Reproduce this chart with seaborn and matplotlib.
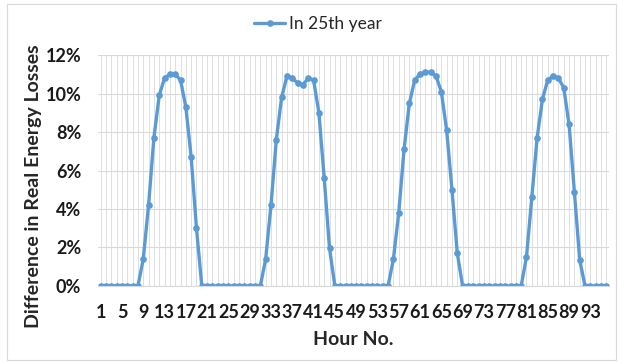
import numpy as np
import pandas as pd
import matplotlib
matplotlib.use('Agg')
import matplotlib.pyplot as plt
import seaborn as sns
from matplotlib.ticker import MultipleLocator, FixedLocator, PercentFormatter
from matplotlib.patches import Rectangle

# hourly difference in real energy losses (%), hours 1..96
hours = list(range(1, 97))
diff_pct = ([0] * 8
            + [1.4, 4.2, 7.7, 9.9, 10.8, 11.0, 11.0, 10.7, 9.3, 6.7, 3.0]
            + [0] * 12
            + [1.4, 4.2, 7.6, 9.8, 10.9, 10.8, 10.55, 10.45, 10.8, 10.7, 9.0, 5.6, 1.95]
            + [0] * 11
            + [1.4, 3.8, 7.1, 9.5, 10.7, 11.0, 11.1, 11.1, 10.9, 10.1, 8.1, 5.0, 1.7]
            + [0] * 12
            + [1.5, 4.6, 7.7, 9.7, 10.7, 10.9, 10.8, 10.3, 8.4, 4.9, 1.35]
            + [0] * 5)
x_ticks = list(range(1, 97, 4))
series_name = 'In 25th year'

df = pd.DataFrame({'Hour': hours, 'Diff': diff_pct, 'Series': series_name})

sns.set_style('white')
plt.rcParams['font.family'] = ['Lato', 'DejaVu Sans']

fig = plt.figure(figsize=(6.18, 3.62), dpi=100)
ax = fig.add_axes([0.1586, 0.21, 0.8268, 0.638])

sns.lineplot(data=df, x='Hour', y='Diff', hue='Series', palette=['#5B9BD5'],
             marker='o', markersize=4.8, markeredgewidth=0, linewidth=2.4, ax=ax)

ax.set_xlim(0.5, 96.5)
ax.set_ylim(0, 12)
ax.xaxis.set_major_locator(FixedLocator(x_ticks))
ax.xaxis.set_minor_locator(MultipleLocator(1))
ax.yaxis.set_major_locator(MultipleLocator(2))
ax.yaxis.set_major_formatter(PercentFormatter(100, decimals=0))
ax.grid(True, which='both', axis='x', color='#E0E0E0', linewidth=0.7)
ax.grid(True, which='major', axis='y', color='#D9D9D9', linewidth=0.8)
ax.set_axisbelow(True)

for s in ['top', 'right', 'left']:
    ax.spines[s].set_visible(False)
ax.spines['bottom'].set_color('#D9D9D9')

ax.tick_params(axis='both', which='both', length=0, labelsize=13, colors='#1a1a1a')
ax.tick_params(axis='x', pad=13)
ax.tick_params(axis='y', pad=12)
for lab in ax.get_xticklabels() + ax.get_yticklabels():
    lab.set_fontweight('bold')

ax.set_xlabel('Hour No.', fontsize=14, fontweight='bold', labelpad=7)
ax.set_ylabel('Difference in Real Energy Losses', fontsize=14, fontweight='bold')
ax.yaxis.set_label_coords(-0.11, 0.43)

leg = ax.legend(loc='center', bbox_to_anchor=(0.43, 1.135), frameon=False,
                fontsize=12.5, handlelength=1.8, handletextpad=0.2)

fig.patches.append(Rectangle((0.011, 0.005), 0.985, 0.983, transform=fig.transFigure,
                             fill=False, edgecolor='#D9D9D9', linewidth=0.8))

fig.savefig('out.png', dpi=100)
